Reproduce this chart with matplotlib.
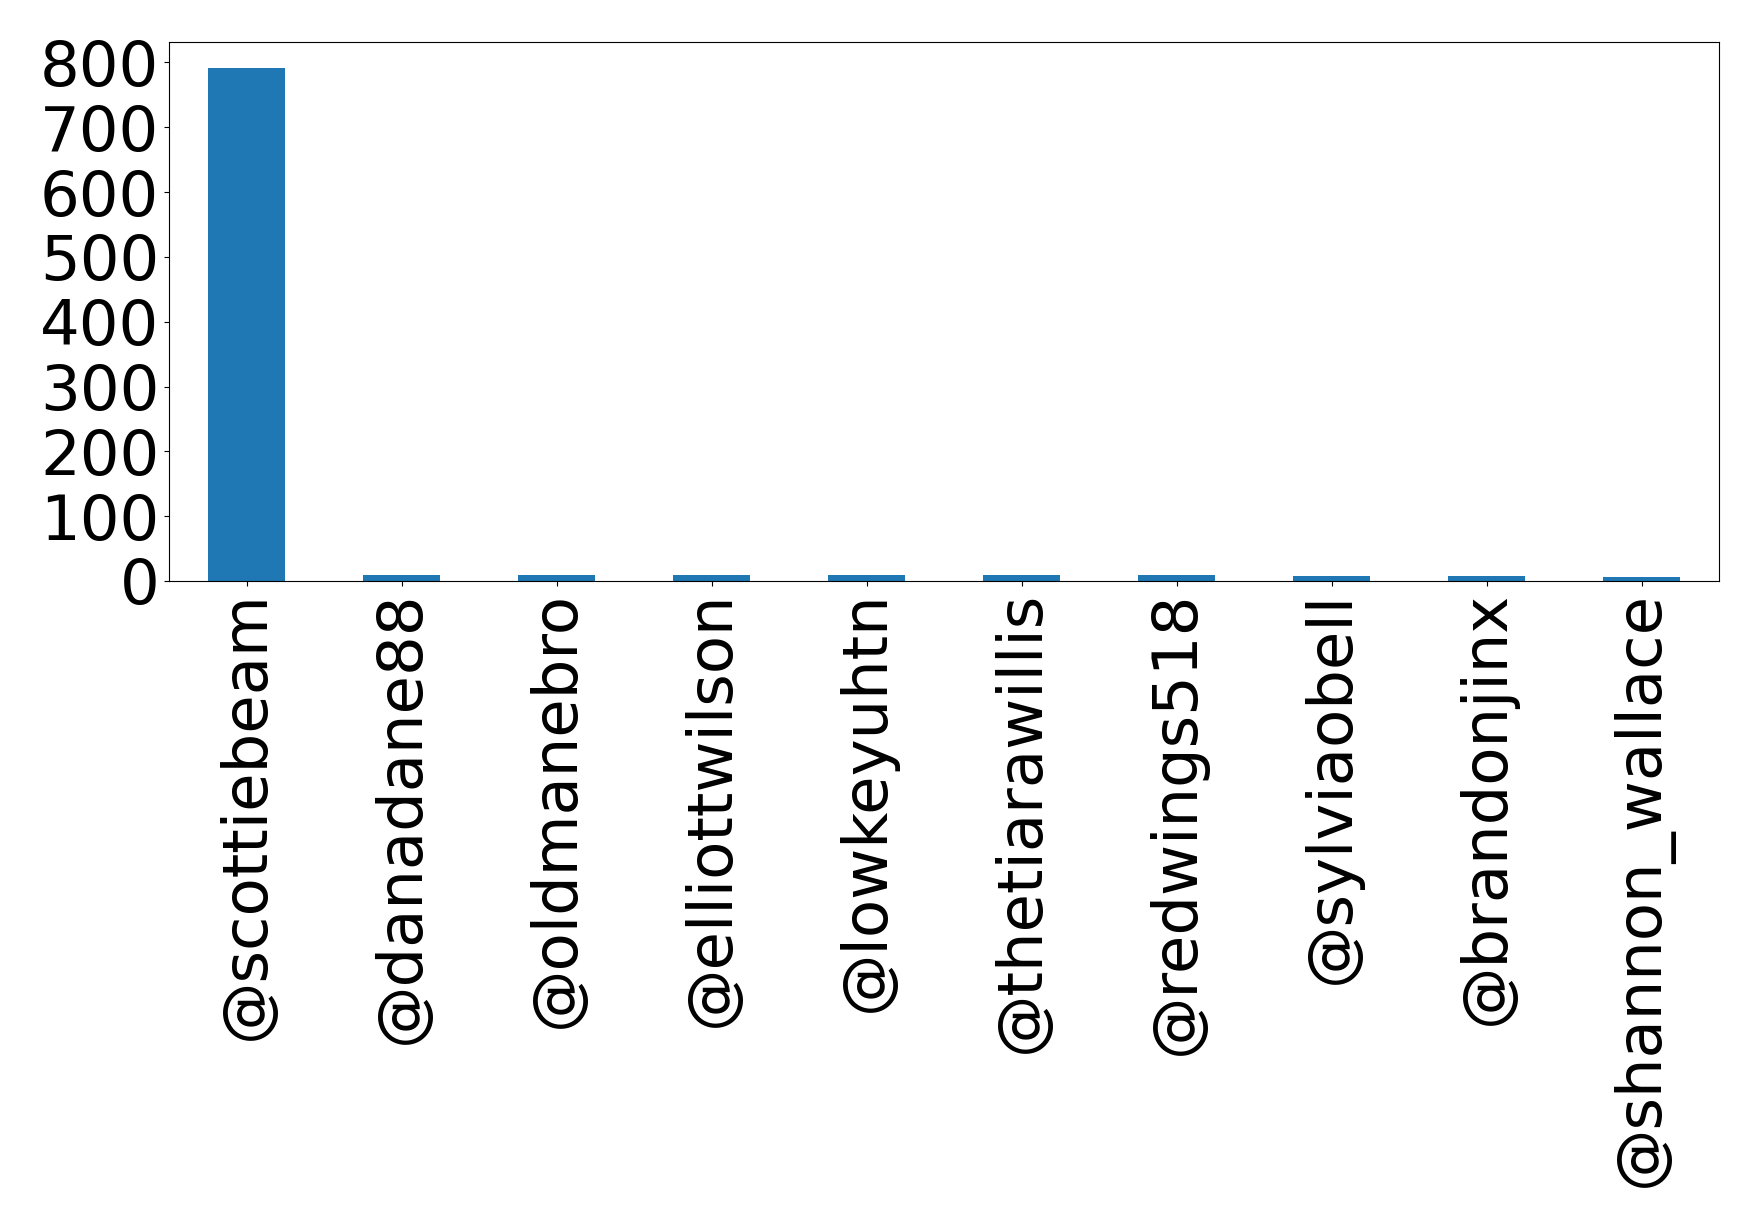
import matplotlib
matplotlib.use("Agg")
import matplotlib.pyplot as plt

users = ["@scottiebeam", "@danadane88", "@oldmanebro", "@elliottwilson",
         "@lowkeyuhtn", "@thetiarawillis", "@redwings518", "@sylviaobell",
         "@brandonjinx", "@shannon_wallace"]
counts = [792, 9, 9, 9, 9, 9, 9, 7, 7, 6]
yticks = [0, 100, 200, 300, 400, 500, 600, 700, 800]

fig = plt.figure(figsize=(17.59, 12.27), dpi=100)
ax = fig.add_axes([0.0961, 0.5265, 0.8812, 0.4393])

x = range(len(users))
ax.bar(x, counts, width=0.5, color="#1f77b4")
ax.set_xlim(-0.5, len(users) - 0.5)
ax.set_xticks(list(x))
ax.set_xticklabels(users, rotation=90, fontsize=45)
ax.set_yticks(yticks)
ax.tick_params(axis="y", labelsize=45)

fig.savefig("out.png", dpi=100)
